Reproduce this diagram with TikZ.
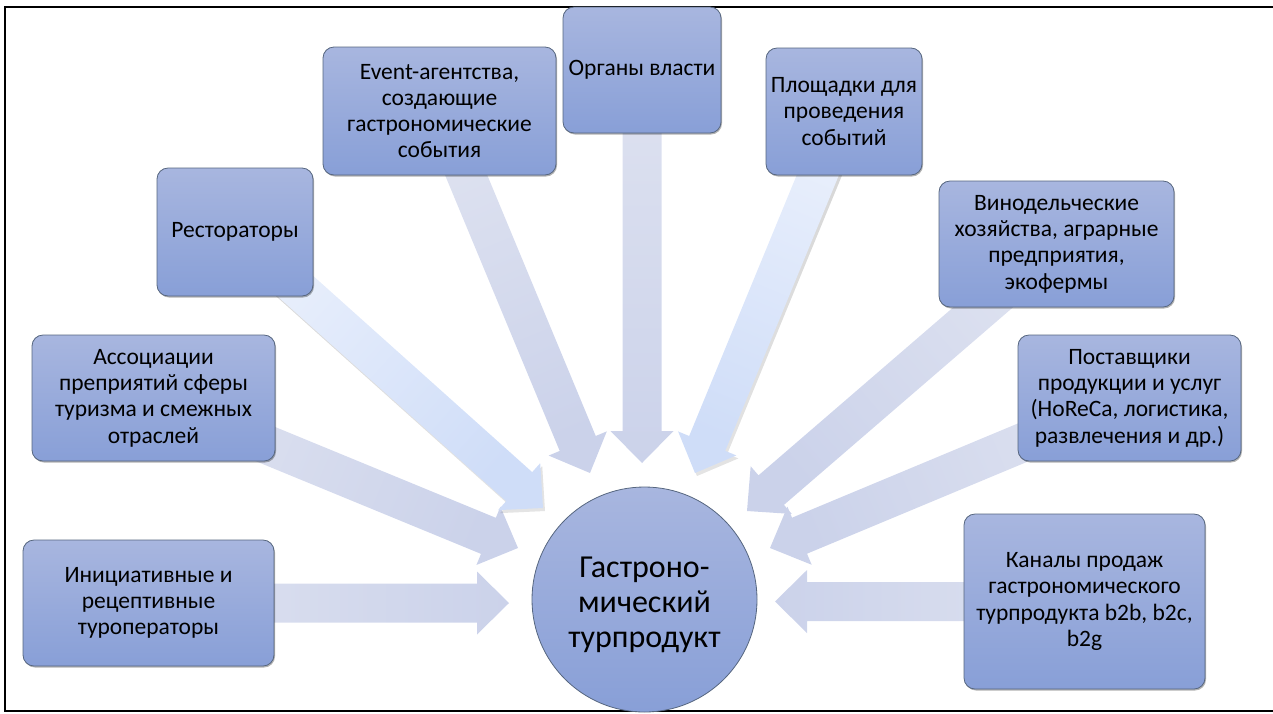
\documentclass[tikz,border=0pt]{standalone}
\usepackage{fontspec}
\setmainfont{Carlito}
\usetikzlibrary{calc,shadows,backgrounds}
\definecolor{boxtop}{HTML}{A8B6DF}
\definecolor{boxbot}{HTML}{889FD7}
\definecolor{boxline}{HTML}{56667F}
\definecolor{arrtail}{HTML}{DEE2F0}
\definecolor{arrtip}{HTML}{CBD2EA}
\definecolor{lighttail}{HTML}{EAF0FC}
\definecolor{lighttip}{HTML}{CFDDF8}
% #1 tail, #2 tip, #3 style, #4 shading angle
\newcommand\blockarrow[4]{%
  \coordinate (ba-h) at ($(#2)!32pt!(#1)$);
  \path[#3, shading angle=#4]
    ($(#1)!19.5pt!-90:(#2)$) -- ($(ba-h)!19.5pt!90:(#1)$) --
    ($(ba-h)!31.5pt!90:(#1)$) -- (#2) -- ($(ba-h)!31.5pt!-90:(#1)$) --
    ($(ba-h)!19.5pt!-90:(#1)$) -- ($(#1)!19.5pt!90:(#2)$) -- cycle;
}
\tikzset{
  box/.style={rectangle, rounded corners=11pt, draw=boxline, line width=0.8pt,
    top color=boxtop, bottom color=boxbot, align=center, inner sep=0pt,
    font=\fontsize{23.5pt}{26.3pt}\selectfont,
    drop shadow={shadow xshift=1pt, shadow yshift=-1.5pt, opacity=0.3, fill=black}},
  hub/.style={circle, draw=boxline, line width=0.8pt, top color=boxtop,
    bottom color=boxbot, align=center, inner sep=0pt, minimum size=225pt,
    font=\fontsize{32pt}{35pt}\selectfont},
  normalarrow/.style={top color=arrtail, bottom color=arrtip},
  lightarrow/.style={top color=lighttail, bottom color=lighttip},
  arrowshadow/.style={fill=black, opacity=0.12, transform canvas={shift={(2pt,-3pt)}}},
  frameline/.style={line width=1.8pt, black}
}
\begin{document}
\begin{tikzpicture}[x=1pt,y=-1pt]
\useasboundingbox (0,0) rectangle (1273,713);

\node[hub] (c) at (644.5,599.5) {\rule{0pt}{32pt}Гастроно-\\мический\\турпродукт};

\node[box, minimum width=251pt, minimum height=126pt] (b1) at (148.5,603)
  {Инициативные и\\рецептивные\\туроператоры};
\node[box, minimum width=243pt, minimum height=126pt] (b2) at (153.5,398)
  {Ассоциации\\преприятий сферы\\туризма и смежных\\отраслей};
\node[box, minimum width=156pt, minimum height=128pt] (b3) at (235,232)
  {Рестораторы};
\node[box, minimum width=233pt, minimum height=128pt] (b4) at (439.5,111)
  {Event-агентства,\\создающие\\гастрономические\\события};
\node[box, minimum width=158pt, minimum height=126pt] (b5) at (642,70)
  {Органы власти};
\node[box, minimum width=156pt, minimum height=127pt] (b6) at (844,111.5)
  {Площадки для\\проведения\\событий};
\node[box, minimum width=235pt, minimum height=126pt] (b7) at (1056.5,244)
  {Винодельческие\\хозяйства, аграрные\\предприятия,\\экофермы};
\node[box, minimum width=223pt, minimum height=126pt] (b8) at (1129.5,398)
  {Поставщики\\продукции и услуг\\(HoReCa, логистика,\\развлечения и др.)};
\node[box, minimum width=241pt, minimum height=175pt] (b9) at (1084.5,601.5)
  {Каналы продаж\\гастрономического\\турпродукта b2b, b2c,\\b2g};

\coordinate (t1) at (509,603);
\coordinate (t2) at (518,548);
\coordinate (t3) at (543,508);
\coordinate (t4) at (590,473);
\coordinate (t5) at (642,463);
\coordinate (t6) at (695,473);
\coordinate (t7) at (747,511);
\coordinate (t8) at (770,548);
\coordinate (t9) at (775,601.5);

\begin{scope}[on background layer]
  \draw[frameline] (1273,7) -- (5,7) -- (5,711) -- (1273,711);
  \blockarrow{b1.center}{t1}{normalarrow}{90}
  \blockarrow{b2.center}{t2}{normalarrow}{67.7}
  \blockarrow{b4.center}{t4}{normalarrow}{22.5}
  \blockarrow{b5.center}{t5}{normalarrow}{0}
  \blockarrow{b7.center}{t7}{normalarrow}{-49.2}
  \blockarrow{b8.center}{t8}{normalarrow}{-67.4}
  \blockarrow{b9.center}{t9}{normalarrow}{270}
  \blockarrow{b3.center}{t3}{arrowshadow}{0}
  \blockarrow{b3.center}{t3}{lightarrow}{48.1}
  \blockarrow{b6.center}{t6}{arrowshadow}{0}
  \blockarrow{b6.center}{t6}{lightarrow}{-22.4}
\end{scope}
\end{tikzpicture}
\end{document}
